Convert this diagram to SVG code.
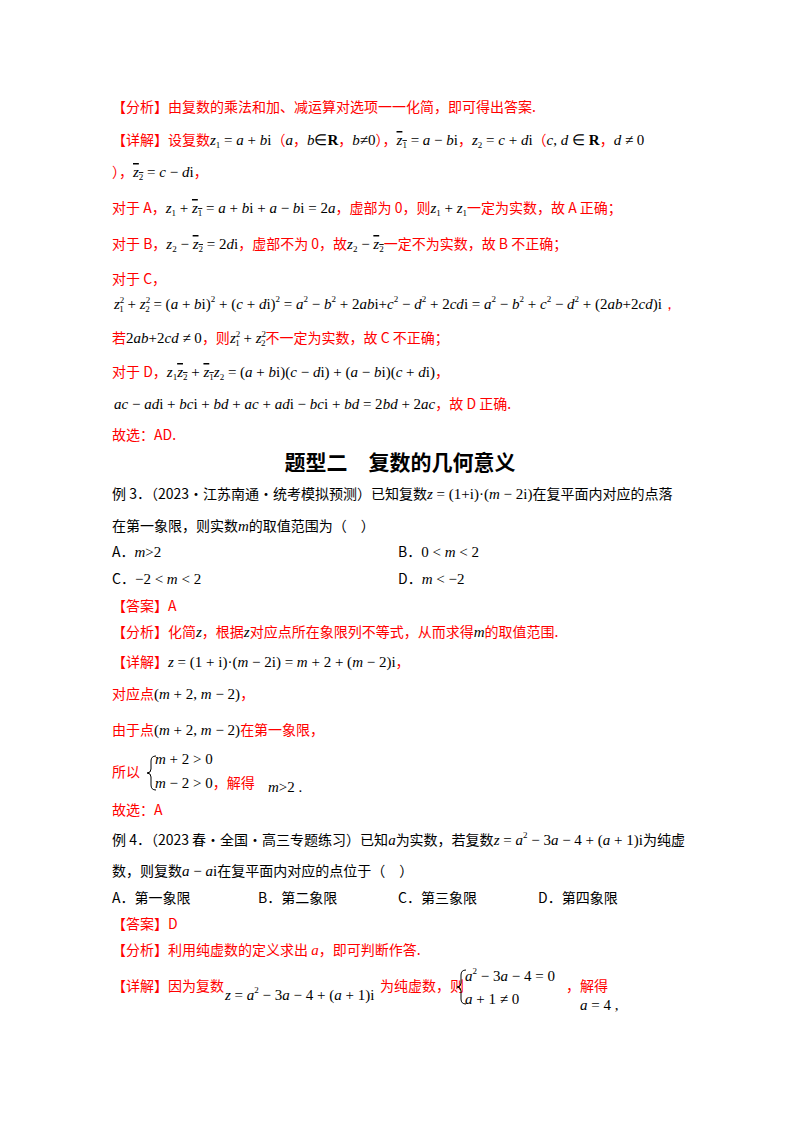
<svg xmlns="http://www.w3.org/2000/svg" width="800" height="1132" viewBox="0 0 800 1132">
<style>
text{font-family:"Noto Sans CJK SC",sans-serif;font-size:14px}
.r{fill:#ff0000}
.k{fill:#000}
.m{font-family:"Liberation Serif",serif;font-style:italic;font-size:15px;fill:#000}
.n{font-family:"Liberation Serif",serif;font-size:15px;fill:#000}
.s{font-size:9px}
.o{text-decoration:overline}
.h{font-size:21px;font-weight:bold;fill:#000}
</style>
<rect width="800" height="1132" fill="#fff"/>
<text x="112" y="112" class="r">【分析】由复数的乘法和加、减运算对选项一一化简，即可得出答案.</text>
<text x="112" y="145" class="r">【详解】设复数<tspan class="m">z</tspan><tspan class="n s" dy="3">1</tspan><tspan class="n" dy="-3"> = </tspan><tspan class="m">a</tspan><tspan class="n"> + </tspan><tspan class="m">b</tspan><tspan class="n">i</tspan>（<tspan class="m">a</tspan>，<tspan class="m">b</tspan><tspan class="n">∈<tspan font-weight="bold" font-style="normal">R</tspan></tspan>，<tspan class="m">b</tspan><tspan class="n">≠0</tspan>），<tspan class="m o">z</tspan><tspan class="n s o" dy="3">1</tspan><tspan class="n" dy="-3"> = </tspan><tspan class="m">a</tspan><tspan class="n"> − </tspan><tspan class="m">b</tspan><tspan class="n">i</tspan>，<tspan class="m">z</tspan><tspan class="n s" dy="3">2</tspan><tspan class="n" dy="-3"> = </tspan><tspan class="m">c</tspan><tspan class="n"> + </tspan><tspan class="m">d</tspan><tspan class="n">i</tspan>（<tspan class="m">c</tspan><tspan class="n">, </tspan><tspan class="m">d</tspan><tspan class="n"> ∈ <tspan font-weight="bold" font-style="normal">R</tspan></tspan>，<tspan class="m">d</tspan><tspan class="n"> ≠ 0</tspan></text>
<text x="112" y="177" class="r">），<tspan class="m o">z</tspan><tspan class="n s o" dy="3">2</tspan><tspan class="n" dy="-3"> = </tspan><tspan class="m">c</tspan><tspan class="n"> − </tspan><tspan class="m">d</tspan><tspan class="n">i</tspan>，</text>
<text x="112" y="213" class="r">对于 A，<tspan class="m">z</tspan><tspan class="n s" dy="3">1</tspan><tspan class="n" dy="-3"> + </tspan><tspan class="m o">z</tspan><tspan class="n s o" dy="3">1</tspan><tspan class="n" dy="-3"> = </tspan><tspan class="m">a</tspan><tspan class="n"> + </tspan><tspan class="m">b</tspan><tspan class="n">i + </tspan><tspan class="m">a</tspan><tspan class="n"> − </tspan><tspan class="m">b</tspan><tspan class="n">i = 2</tspan><tspan class="m">a</tspan>，虚部为 0，则<tspan class="m">z</tspan><tspan class="n s" dy="3">1</tspan><tspan class="n" dy="-3"> + </tspan><tspan class="m">z</tspan><tspan class="n s" dy="3">1</tspan><tspan dy="-3">一定为实数，故 A 正确；</tspan></text>
<text x="112" y="249" class="r">对于 B，<tspan class="m">z</tspan><tspan class="n s" dy="3">2</tspan><tspan class="n" dy="-3"> − </tspan><tspan class="m o">z</tspan><tspan class="n s o" dy="3">2</tspan><tspan class="n" dy="-3"> = 2</tspan><tspan class="m">d</tspan><tspan class="n">i</tspan>，虚部不为 0，故<tspan class="m">z</tspan><tspan class="n s" dy="3">2</tspan><tspan class="n" dy="-3"> − </tspan><tspan class="m o">z</tspan><tspan class="n s o" dy="3">2</tspan><tspan dy="-3">一定不为实数，故 B 不正确；</tspan></text>
<text x="112" y="284" class="r">对于 C，</text>
<text x="114" y="309" class="n"><tspan class="m">z</tspan><tspan class="s" dy="-6">2</tspan><tspan class="s" dx="-5" dy="9">1</tspan><tspan dy="-3"> + </tspan><tspan class="m">z</tspan><tspan class="s" dy="-6">2</tspan><tspan class="s" dx="-5" dy="9">2</tspan><tspan dy="-3"> = (</tspan><tspan class="m">a</tspan> + <tspan class="m">b</tspan>i)<tspan class="s" dy="-7">2</tspan><tspan dy="7"> + (</tspan><tspan class="m">c</tspan> + <tspan class="m">d</tspan>i)<tspan class="s" dy="-7">2</tspan><tspan dy="7"> = </tspan><tspan class="m">a</tspan><tspan class="s" dy="-7">2</tspan><tspan dy="7"> − </tspan><tspan class="m">b</tspan><tspan class="s" dy="-7">2</tspan><tspan dy="7"> + 2</tspan><tspan class="m">ab</tspan>i+<tspan class="m">c</tspan><tspan class="s" dy="-7">2</tspan><tspan dy="7"> − </tspan><tspan class="m">d</tspan><tspan class="s" dy="-7">2</tspan><tspan dy="7"> + 2</tspan><tspan class="m">cd</tspan>i = <tspan class="m">a</tspan><tspan class="s" dy="-7">2</tspan><tspan dy="7"> − </tspan><tspan class="m">b</tspan><tspan class="s" dy="-7">2</tspan><tspan dy="7"> + </tspan><tspan class="m">c</tspan><tspan class="s" dy="-7">2</tspan><tspan dy="7"> − </tspan><tspan class="m">d</tspan><tspan class="s" dy="-7">2</tspan><tspan dy="7"> + (2</tspan><tspan class="m">ab</tspan>+2<tspan class="m">cd</tspan>)i<tspan class="r">，</tspan></text>
<text x="112" y="343" class="r">若<tspan class="n">2</tspan><tspan class="m">ab</tspan><tspan class="n">+2</tspan><tspan class="m">cd</tspan><tspan class="n"> ≠ 0</tspan>，则<tspan class="m">z</tspan><tspan class="n s" dy="-6">2</tspan><tspan class="n s" dx="-5" dy="9">1</tspan><tspan class="n" dy="-3"> + </tspan><tspan class="m">z</tspan><tspan class="n s" dy="-6">2</tspan><tspan class="n s" dx="-5" dy="9">2</tspan><tspan dy="-3">不一定为实数，故 C 不正确；</tspan></text>
<text x="112" y="377" class="r">对于 D，<tspan class="m">z</tspan><tspan class="n s" dy="3">1</tspan><tspan class="m o" dy="-3">z</tspan><tspan class="n s o" dy="3">2</tspan><tspan class="n" dy="-3"> + </tspan><tspan class="m o">z</tspan><tspan class="n s o" dy="3">1</tspan><tspan class="m" dy="-3">z</tspan><tspan class="n s" dy="3">2</tspan><tspan class="n" dy="-3"> = (</tspan><tspan class="m">a</tspan><tspan class="n"> + </tspan><tspan class="m">b</tspan><tspan class="n">i)(</tspan><tspan class="m">c</tspan><tspan class="n"> − </tspan><tspan class="m">d</tspan><tspan class="n">i) + (</tspan><tspan class="m">a</tspan><tspan class="n"> − </tspan><tspan class="m">b</tspan><tspan class="n">i)(</tspan><tspan class="m">c</tspan><tspan class="n"> + </tspan><tspan class="m">d</tspan><tspan class="n">i)</tspan>，</text>
<text x="114" y="409" class="n"><tspan class="m">ac</tspan> − <tspan class="m">ad</tspan>i + <tspan class="m">bc</tspan>i + <tspan class="m">bd</tspan> + <tspan class="m">ac</tspan> + <tspan class="m">ad</tspan>i − <tspan class="m">bc</tspan>i + <tspan class="m">bd</tspan> = 2<tspan class="m">bd</tspan> + 2<tspan class="m">ac</tspan><tspan class="r" style="font-family:'Noto Sans CJK SC',sans-serif;font-size:14px">，故 D 正确.</tspan></text>
<text x="112" y="440" class="r">故选：AD.</text>
<text x="400" y="470" class="h" text-anchor="middle">题型二　复数的几何意义</text>
<text x="112" y="499" class="k">例 3．（2023·江苏南通·统考模拟预测）已知复数<tspan class="m">z</tspan><tspan class="n"> = (1+i)·(</tspan><tspan class="m">m</tspan><tspan class="n"> − 2i)</tspan>在复平面内对应的点落</text>
<text x="112" y="531" class="k">在第一象限，则实数<tspan class="m">m</tspan>的取值范围为（　）</text>
<text x="112" y="557" class="k">A．<tspan class="m">m</tspan><tspan class="n">&gt;2</tspan></text>
<text x="398" y="557" class="k">B．<tspan class="n">0 &lt; </tspan><tspan class="m">m</tspan><tspan class="n"> &lt; 2</tspan></text>
<text x="112" y="584" class="k">C．<tspan class="n">−2 &lt; </tspan><tspan class="m">m</tspan><tspan class="n"> &lt; 2</tspan></text>
<text x="398" y="584" class="k">D．<tspan class="m">m</tspan><tspan class="n"> &lt; −2</tspan></text>
<text x="112" y="611" class="r">【答案】A</text>
<text x="112" y="637" class="r">【分析】化简<tspan class="m">z</tspan>，根据<tspan class="m">z</tspan>对应点所在象限列不等式，从而求得<tspan class="m">m</tspan>的取值范围.</text>
<text x="112" y="667" class="r">【详解】<tspan class="m">z</tspan><tspan class="n"> = (1 + i)·(</tspan><tspan class="m">m</tspan><tspan class="n"> − 2i) = </tspan><tspan class="m">m</tspan><tspan class="n"> + 2 + (</tspan><tspan class="m">m</tspan><tspan class="n"> − 2)i</tspan>，</text>
<text x="112" y="699" class="r">对应点<tspan class="n">(</tspan><tspan class="m">m</tspan><tspan class="n"> + 2, </tspan><tspan class="m">m</tspan><tspan class="n"> − 2)</tspan>，</text>
<text x="112" y="735" class="r">由于点<tspan class="n">(</tspan><tspan class="m">m</tspan><tspan class="n"> + 2, </tspan><tspan class="m">m</tspan><tspan class="n"> − 2)</tspan>在第一象限，</text>
<text x="112" y="777" class="r">所以</text>
<path d="M156,756 q-5,0 -5,5 v8 q0,4 -4,4 q4,0 4,4 v8 q0,5 5,5" fill="none" stroke="#000" stroke-width="1"/>
<text x="155" y="764" class="n"><tspan class="m">m</tspan> + 2 &gt; 0</text>
<text x="155" y="788" class="n"><tspan class="m">m</tspan> − 2 &gt; 0<tspan class="r" style="font-family:'Noto Sans CJK SC',sans-serif;font-size:14px">，解得</tspan></text>
<text x="268" y="792" class="n"><tspan class="m">m</tspan>&gt;2 .</text>
<text x="112" y="815" class="r">故选：A</text>
<text x="112" y="845" class="k">例 4．（2023 春·全国·高三专题练习）已知<tspan class="m">a</tspan>为实数，若复数<tspan class="m">z</tspan><tspan class="n"> = </tspan><tspan class="m">a</tspan><tspan class="n s" dy="-7">2</tspan><tspan class="n" dy="7"> − 3</tspan><tspan class="m">a</tspan><tspan class="n"> − 4 + (</tspan><tspan class="m">a</tspan><tspan class="n"> + 1)i</tspan>为纯虚</text>
<text x="112" y="876" class="k">数，则复数<tspan class="m">a</tspan><tspan class="n"> − </tspan><tspan class="m">a</tspan><tspan class="n">i</tspan>在复平面内对应的点位于（　）</text>
<text x="112" y="903" class="k">A．第一象限</text>
<text x="258" y="903" class="k">B．第二象限</text>
<text x="398" y="903" class="k">C．第三象限</text>
<text x="538" y="903" class="k">D．第四象限</text>
<text x="112" y="929" class="r">【答案】D</text>
<text x="112" y="955" class="r">【分析】利用纯虚数的定义求出 <tspan class="m" style="fill:#ff0000">a</tspan>，即可判断作答.</text>
<text x="112" y="991" class="r">【详解】因为复数</text>
<text x="225" y="1000" class="n"><tspan class="m">z</tspan> = <tspan class="m">a</tspan><tspan class="s" dy="-7">2</tspan><tspan dy="7"> − 3</tspan><tspan class="m">a</tspan> − 4 + (<tspan class="m">a</tspan> + 1)i</text>
<text x="380" y="991" class="r">为纯虚数，则</text>
<path d="M466,970 q-5,0 -5,5 v8 q0,4 -4,4 q4,0 4,4 v8 q0,5 5,5" fill="none" stroke="#000" stroke-width="1"/>
<text x="465" y="981" class="n"><tspan class="m">a</tspan><tspan class="s" dy="-7">2</tspan><tspan dy="7"> − 3</tspan><tspan class="m">a</tspan> − 4 = 0</text>
<text x="465" y="1004" class="n"><tspan class="m">a</tspan> + 1 ≠ 0</text>
<text x="566" y="991" class="r">，解得</text>
<text x="580" y="1010" class="n"><tspan class="m">a</tspan> = 4 ,</text>
</svg>
